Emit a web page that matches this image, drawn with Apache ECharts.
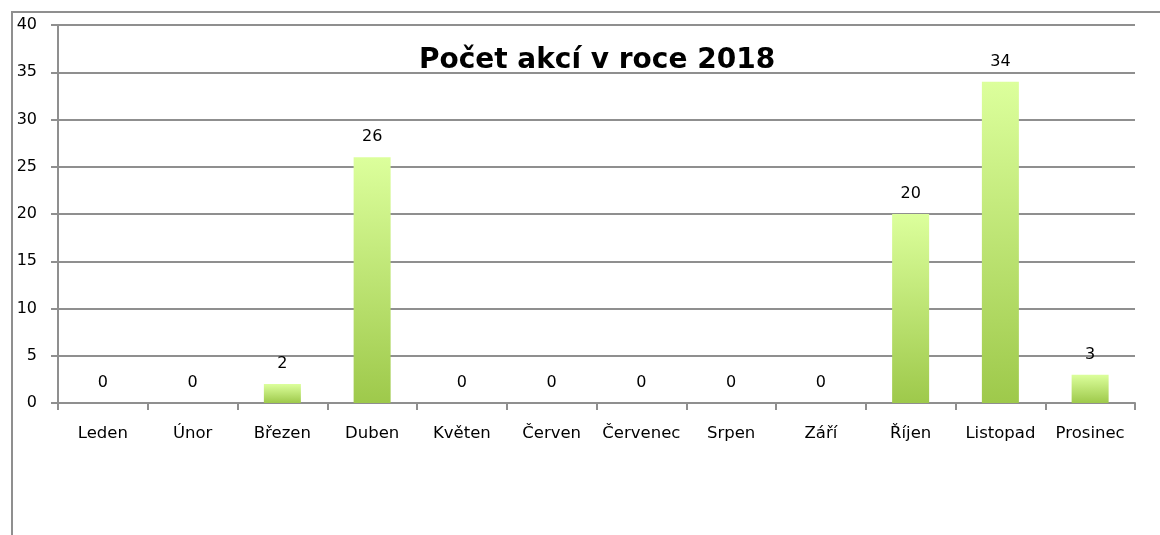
<!DOCTYPE html>
<html>
<head>
<meta charset="utf-8">
<script src="https://cdn.jsdelivr.net/npm/echarts@6/dist/echarts.min.js"></script>
<style>
html,body{margin:0;padding:0;background:#fff;}
#c{width:1160px;height:535px;}
</style>
</head>
<body>
<div id="c"></div>
<script>
const titleText = 'Počet akcí v roce 2018';
const months = ['Leden','Únor','Březen','Duben','Květen','Červen','Červenec','Srpen','Září','Říjen','Listopad','Prosinec'];
const counts = [0,0,2,26,0,0,0,0,0,20,34,3];
const yTicks = {min:0, max:40, interval:5};

const chart = echarts.init(document.getElementById('c'), null, {renderer:'canvas'});
const grey = '#8f8f8f';
chart.setOption({
  animation:false,
  backgroundColor:'#fff',
  title:{
    text:titleText,
    left:592, top:42, textAlign:'center',
    textStyle:{fontFamily:'DejaVu Sans', fontWeight:'bold', fontSize:28, color:'#000'}
  },
  graphic:[{
    type:'rect', z:-1, silent:true,
    shape:{x:12, y:12, width:1200, height:600},
    style:{fill:'none', stroke:grey, lineWidth:2}
  }],
  grid:{left:58, right:25, top:25, bottom:132, containLabel:false},
  xAxis:{
    type:'category', data:months,
    axisLine:{show:true, lineStyle:{color:grey, width:2}},
    axisTick:{show:true, interval:0, length:7, lineStyle:{color:grey, width:2}},
    axisLabel:{interval:0, margin:22, color:'#000', fontFamily:'DejaVu Sans', fontSize:16.5}
  },
  yAxis:{
    type:'value', min:yTicks.min, max:yTicks.max, interval:yTicks.interval,
    axisLine:{show:true, lineStyle:{color:grey, width:2}},
    axisTick:{show:true, length:7, lineStyle:{color:grey, width:2}},
    splitLine:{show:true, lineStyle:{color:grey, width:2}},
    axisLabel:{margin:21, color:'#000', fontFamily:'DejaVu Sans', fontSize:16}
  },
  series:[{
    type:'bar', data:counts, barWidth:37,
    itemStyle:{color:new echarts.graphic.LinearGradient(0,0,0,1,[
      {offset:0,color:'#dcff9c'},{offset:1,color:'#9ec94b'}
    ])},
    label:{show:true, position:'top', distance:12, color:'#000', fontFamily:'DejaVu Sans', fontSize:16}
  }]
});
</script>
</body>
</html>
